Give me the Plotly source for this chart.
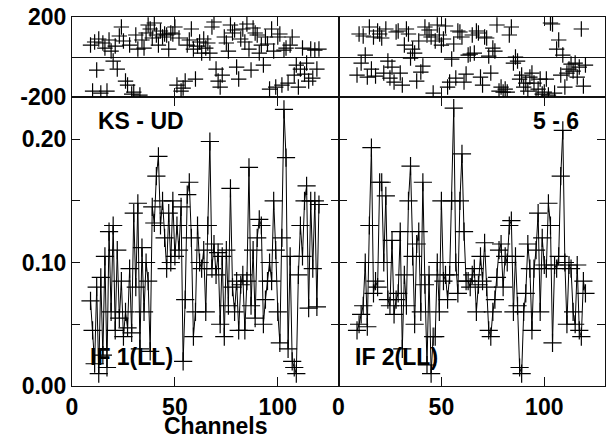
import plotly.graph_objects as go

channels = list(range(9, 121))

amp_if1 = [0.069, 0.045, 0.018, 0.080, 0.010, 0.088, 0.025, 0.105, 0.015, 0.125,
           0.060, 0.130, 0.045, 0.110, 0.055, 0.085, 0.040, 0.060, 0.047, 0.095,
           0.043, 0.140, 0.080, 0.148, 0.030, 0.112, 0.060, 0.100, 0.085, 0.028,
           0.145, 0.132, 0.170, 0.186, 0.130, 0.150, 0.120, 0.095, 0.140, 0.100,
           0.150, 0.105, 0.130, 0.110, 0.145, 0.020, 0.070, 0.155, 0.165, 0.120,
           0.040, 0.060, 0.130, 0.100, 0.095, 0.110, 0.060, 0.130, 0.198, 0.095,
           0.115, 0.090, 0.108, 0.050, 0.105, 0.040, 0.110, 0.065, 0.160, 0.080,
           0.060, 0.085, 0.045, 0.082, 0.090, 0.045, 0.085, 0.177, 0.065, 0.110,
           0.055, 0.120, 0.135, 0.130, 0.050, 0.070, 0.085, 0.100, 0.085, 0.150,
           0.110, 0.060, 0.035, 0.120, 0.224, 0.185, 0.030, 0.105, 0.020, 0.015,
           0.010, 0.090, 0.130, 0.105, 0.150, 0.162, 0.063, 0.150, 0.095, 0.150,
           0.064, 0.147]

amp_if2 = [0.045, 0.050, 0.058, 0.065, 0.100, 0.048, 0.130, 0.193, 0.075, 0.085,
           0.080, 0.165, 0.165, 0.100, 0.154, 0.070, 0.065, 0.118, 0.058, 0.070,
           0.075, 0.125, 0.030, 0.090, 0.065, 0.150, 0.178, 0.105, 0.050, 0.115,
           0.125, 0.060, 0.165, 0.082, 0.017, 0.090, 0.010, 0.040, 0.040, 0.100,
           0.060, 0.150, 0.085, 0.090, 0.070, 0.090, 0.150, 0.225, 0.100, 0.075,
           0.150, 0.188, 0.125, 0.085, 0.085, 0.080, 0.090, 0.095, 0.060, 0.082,
           0.105, 0.085, 0.116, 0.080, 0.045, 0.040, 0.060, 0.070, 0.088, 0.110,
           0.115, 0.080, 0.105, 0.100, 0.130, 0.134, 0.060, 0.105, 0.065, 0.015,
           0.010, 0.060, 0.075, 0.115, 0.095, 0.045, 0.095, 0.110, 0.140, 0.060,
           0.120, 0.098, 0.095, 0.148, 0.130, 0.035, 0.098, 0.095, 0.105, 0.170,
           0.207, 0.100, 0.050, 0.098, 0.095, 0.060, 0.050, 0.098, 0.045, 0.040,
           0.085, 0.075]

phase_if1 = [60, -170, 75, -65, 90, -180, 70, 45, -170, 85,
             30, -20, 55, -60, 105, 150, 80, -120, -140, 60,
             -185, -175, 110, 40, -190, 85, 45, 120, 160, 140,
             95, 170, 110, 60, 130, 100, 115, 110, 40, 120,
             115, 150, -140, 95, -170, -155, -120, 60, 85, 140,
             40, -110, 55, 75, 20, 90, 45, 70, 20, 150,
             175, -60, -120, -150, -90, 100, 70, 30, 160, 120,
             135, -50, -110, 90, 140, 75, 165, 40, -65, 145,
             120, 110, 20, 60, -40, 100, 65, -160, 140, 30,
             -150, 100, 115, -140, 35, 45, -130, 60, 100, -90,
             -40, -150, -60, 45, -85, -30, -120, 40, -105, 35,
             -60, 40]

phase_if2 = [-90, 115, -30, 105, 10, -100, 150, -60, 100, -95,
             130, 115, 95, -80, 140, -20, -105, -50, -125, 125,
             130, -80, -140, 60, 140, 115, -5, 40, 20, -120,
             80, -75, -45, 150, 110, 135, 100, -180, 80, 160,
             110, 60, 90, 155, -150, -125, -10, 65, -105, 130,
             125, 100, -125, -85, 10, 15, 110, 20, 130, 120,
             -100, -140, 100, 95, 5, -80, 45, 30, 160, -170,
             -150, -175, -160, -175, 110, 150, -30, 0, -20, -110,
             -90, -150, -130, -170, -100, -80, -130, -200, -160, -110,
             -185, -175, -110, -190, 170, 165, -180, 40, 85, -90,
             10, -150, -80, -60, -35, -70, -30, -100, -50, 140,
             -145, -40]

x_ticks = [0, 50, 100]
amp_ticks = [0.0, 0.05, 0.10, 0.15, 0.20]
amp_ticktext = ["0.00", "", "0.10", "", "0.20"]
phase_ticks = [-200, 200]
phase_ticktext = ["-200", "200"]

BOLD = dict(family="Liberation Sans, Arial, sans-serif", size=23, color="black", weight="bold")
FRAME = "#111111"

fig = go.Figure()

def amp_trace(y, xa, ya):
    return go.Scatter(x=channels, y=y, xaxis=xa, yaxis=ya, mode="lines+markers",
                      line=dict(color="black", width=1),
                      marker=dict(symbol="cross-thin", size=13,
                                  line=dict(color="black", width=1.2)),
                      showlegend=False, hoverinfo="skip")

def phase_trace(y, xa, ya):
    return go.Scatter(x=channels, y=y, xaxis=xa, yaxis=ya, mode="markers",
                      marker=dict(symbol="cross-thin", size=11,
                                  line=dict(color="black", width=1.2)),
                      showlegend=False, hoverinfo="skip")

fig.add_trace(amp_trace(amp_if1, "x", "y"))
fig.add_trace(amp_trace(amp_if2, "x2", "y2"))
fig.add_trace(phase_trace(phase_if1, "x3", "y3"))
fig.add_trace(phase_trace(phase_if2, "x4", "y4"))

xr = [0, 129.5]
split = 0.783

common_x = dict(range=xr, tickvals=x_ticks, ticks="inside", ticklen=9, tickwidth=1,
                tickcolor=FRAME, showline=True, linecolor=FRAME, linewidth=1,
                mirror="allticks", showgrid=False, zeroline=False, tickfont=BOLD,
                automargin=False, ticklabeloverflow="allow")
common_yamp = dict(range=[0, 0.234], tickvals=amp_ticks, ticktext=amp_ticktext,
                   ticks="inside", ticklen=8, tickwidth=1, tickcolor=FRAME,
                   showline=True, linecolor=FRAME, linewidth=1, mirror="allticks",
                   showgrid=False, zeroline=False, tickfont=BOLD, domain=[0, split],
                   automargin=False, ticklabeloverflow="allow")
common_yph = dict(range=[-200, 200], tickvals=phase_ticks, ticktext=phase_ticktext,
                  ticks="", showline=True, linecolor=FRAME, linewidth=1, mirror=True,
                  showgrid=False, zeroline=True, zerolinecolor=FRAME, zerolinewidth=1,
                  tickfont=BOLD, domain=[split, 1], automargin=False,
                  ticklabeloverflow="allow")

fig.update_layout(
    width=608, height=431,
    margin=dict(l=64, r=11, t=9, b=53),
    paper_bgcolor="white", plot_bgcolor="white",
    xaxis=dict(common_x, domain=[0, 0.5], anchor="y"),
    xaxis2=dict(common_x, domain=[0.5, 1.0], anchor="y2"),
    xaxis3=dict(common_x, domain=[0, 0.5], anchor="y3", showticklabels=False),
    xaxis4=dict(common_x, domain=[0.5, 1.0], anchor="y4", showticklabels=False),
    yaxis=dict(common_yamp, anchor="x"),
    yaxis2=dict(common_yamp, anchor="x2", showticklabels=False),
    yaxis3=dict(common_yph, anchor="x3"),
    yaxis4=dict(common_yph, anchor="x4", showticklabels=False),
)

def ann(text, x, y, xanchor="left", yanchor="middle"):
    fig.add_annotation(text=text, x=x, y=y, xref="paper", yref="paper",
                       xanchor=xanchor, yanchor=yanchor, showarrow=False, font=BOLD)

ann("KS - UD", 0.045, 0.717)
ann("5 - 6", 0.955, 0.717, xanchor="right")
ann("IF 1(LL)", 0.030, 0.079)
ann("IF 2(LL)", 0.527, 0.079)
ann("Channels", 0.270, -0.108, xanchor="center")

fig.write_html("out.html")
